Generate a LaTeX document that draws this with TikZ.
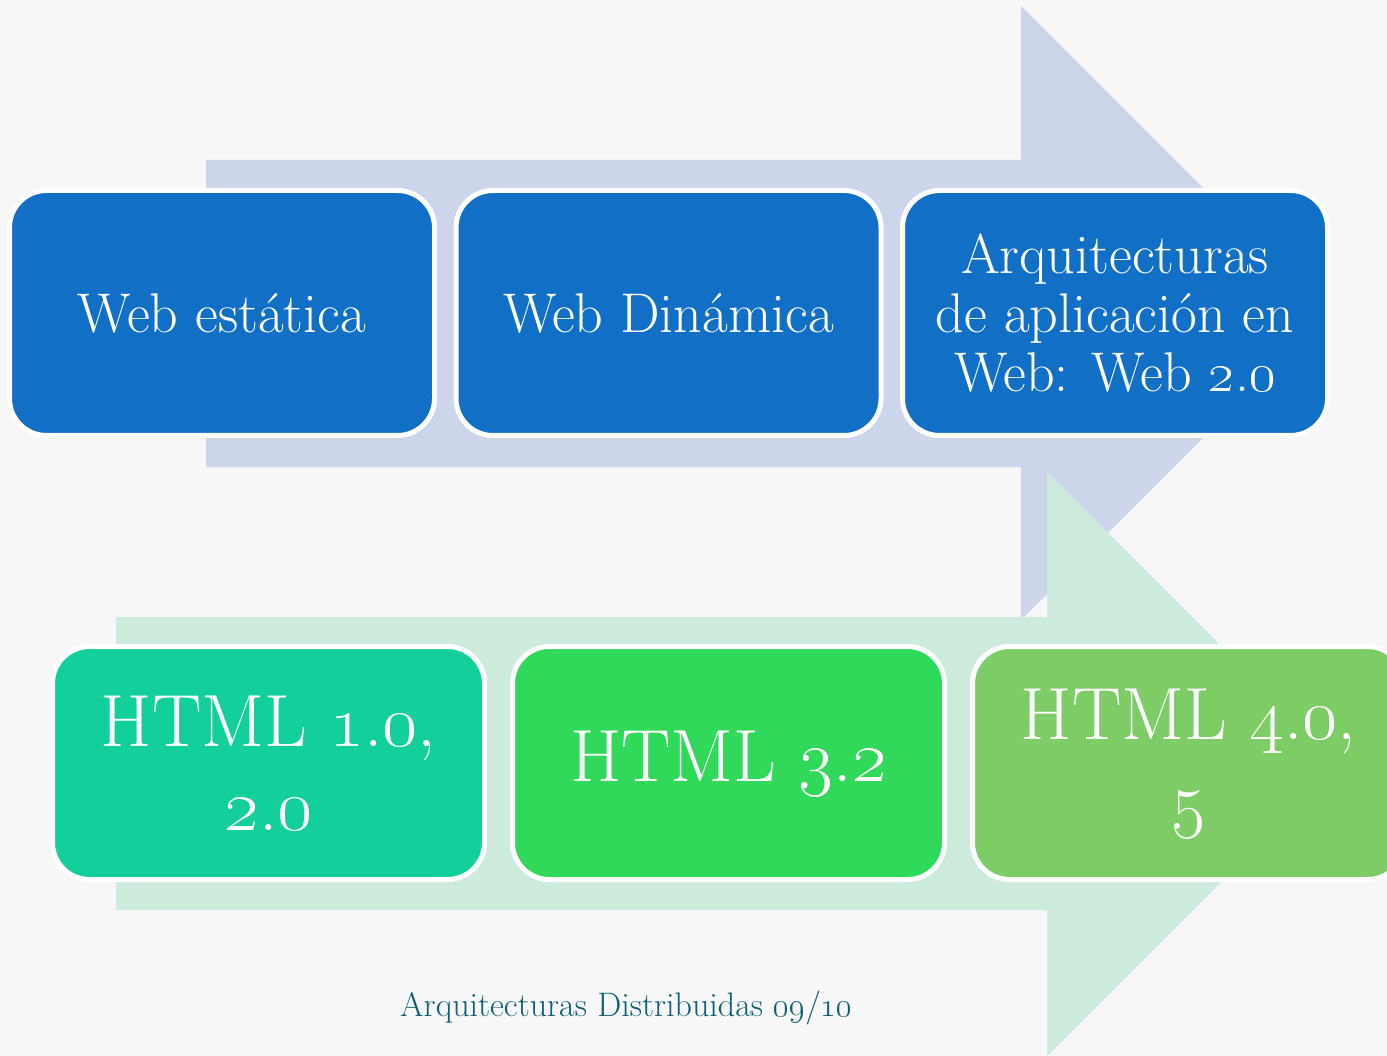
\RequirePackage{fix-cm}
\documentclass[tikz,border=0pt]{standalone}
\usetikzlibrary{positioning}
\definecolor{bgpaper}{HTML}{F7F7F7}
\definecolor{webarrow}{HTML}{CDD5EA}
\definecolor{htmlarrow}{HTML}{CCEBDD}
\definecolor{webblue}{HTML}{1170C6}
\definecolor{htmlteal}{HTML}{13CF9B}
\definecolor{htmlgreen}{HTML}{30D95A}
\definecolor{htmlolive}{HTML}{7ECC66}
\definecolor{footteal}{HTML}{105E73}
\begin{document}
\begin{tikzpicture}[x=1pt, y=-1pt, node distance=446.5pt,
    stage/.style={draw=white, line width=5pt, rounded corners=37pt, fill=webblue,
      text=white, align=center, inner sep=4pt, minimum width=425pt, minimum height=245pt,
      font=\fontsize{56}{59}\selectfont},
    version/.style={stage, minimum width=432pt, minimum height=233pt,
      font=\fontsize{74}{84}\selectfont}]
    \useasboundingbox (0,0) rectangle (1387,1056);
    \clip (0,0) rectangle (1387,1056);
    \fill[bgpaper] (0,0) rectangle (1387,1056);
    % the two big arrows behind the boxes
    \fill[webarrow] (206,160) -- (1021,160) -- (1021,6) -- (1328,313)
      -- (1021,620) -- (1021,467) -- (206,467) -- cycle;
    \node (web1) [stage] at (222,313) {Web estática};
    \node (web2) [stage, right of=web1] {Web Dinámica};
    \node (web3) [stage, right of=web2] {Arquitecturas\\de aplicación en\\Web: Web \oldstylenums{2}.\oldstylenums{0}};
    \fill[htmlarrow] (116,617) -- (1047,617) -- (1047,472) -- (1339,764)
      -- (1047,1056) -- (1047,910) -- (116,910) -- cycle;
    \begin{scope}[node distance=460pt]
      \node (html1) [version, fill=htmlteal] at (268.5,763) {HTML \oldstylenums{1}.\oldstylenums{0},\\\oldstylenums{2}.\oldstylenums{0}};
      \node (html2) [version, fill=htmlgreen, right of=html1] {HTML \oldstylenums{3}.\oldstylenums{2}};
      \node (html3) [version, fill=htmlolive, right of=html2] {HTML \oldstylenums{4}.\oldstylenums{0},\\\oldstylenums{5}};
    \end{scope}
    \node (footer) [text=footteal, font=\fontsize{34}{38}\selectfont] at (626.5,1008)
      {Arquitecturas Distribuidas \oldstylenums{09}/\oldstylenums{10}};
\end{tikzpicture}
\end{document}
